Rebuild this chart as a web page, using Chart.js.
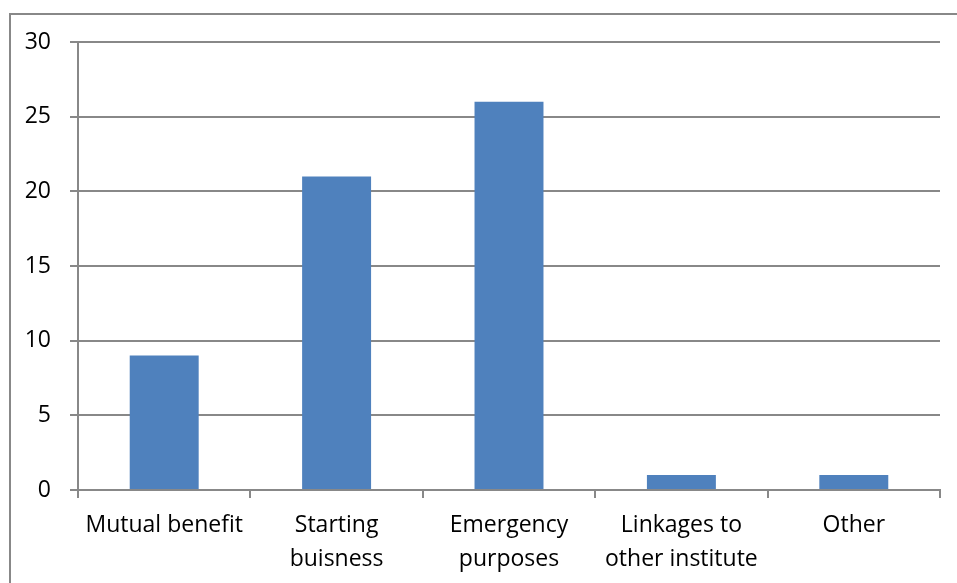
<!DOCTYPE html>
<html>
<head>
<meta charset="utf-8">
<script src="https://cdn.jsdelivr.net/npm/chart.js@4"></script>
<style>
  body { margin: 0; background: #fff; }
  #wrap { position: relative; width: 957px; height: 583px; overflow: hidden; }
  #frame { position: absolute; left: 9px; top: 13px; width: 1000px; height: 1000px; border: 2px solid #888; box-sizing: border-box; }
  canvas { position: absolute; left: 0; top: 0; }
</style>
</head>
<body>
<div id="wrap">
  <div id="frame"></div>
  <canvas id="chart" width="957" height="583"></canvas>
</div>
<script>
// Purpose of the group (counts)
const categories = [
  "Mutual benefit",
  ["Starting", "buisness"],
  ["Emergency", "purposes"],
  ["Linkages to", "other institute"],
  "Other",
];
const counts = [9, 21, 26, 1, 1];
const yTicks = [0, 5, 10, 15, 20, 25, 30];

new Chart(document.getElementById("chart").getContext("2d"), {
  type: "bar",
  data: {
    labels: categories,
    datasets: [
      {
        label: "Count",
        data: counts,
        backgroundColor: "#4f81bd",
        barPercentage: 0.4,
        categoryPercentage: 1,
      },
    ],
  },
  options: {
    responsive: false,
    animation: false,
    layout: { padding: { left: 0, right: 17, top: 42, bottom: 0 } },
    plugins: { legend: { display: false }, tooltip: { enabled: false } },
    scales: {
      x: {
        grid: { display: true, drawOnChartArea: false, drawTicks: true, tickLength: 8, color: "#888", lineWidth: 2 },
        border: { color: "#888", width: 2 },
        ticks: { color: "#000", padding: 10, maxRotation: 0, font: { family: "Open Sans", size: 23, lineHeight: 1.48 } },
        afterFit: (s) => { s.height = 93; },
      },
      y: {
        min: 0,
        max: 30,
        afterBuildTicks: (s) => { s.ticks = yTicks.map((v) => ({ value: v })); },
        grid: { color: "#888", lineWidth: 2, tickLength: 8 },
        border: { color: "#888", width: 2 },
        ticks: { color: "#000", padding: 19, font: { family: "Open Sans", size: 23 } },
        afterFit: (s) => { s.width = 78; },
      },
    },
  },
});
</script>
</body>
</html>
